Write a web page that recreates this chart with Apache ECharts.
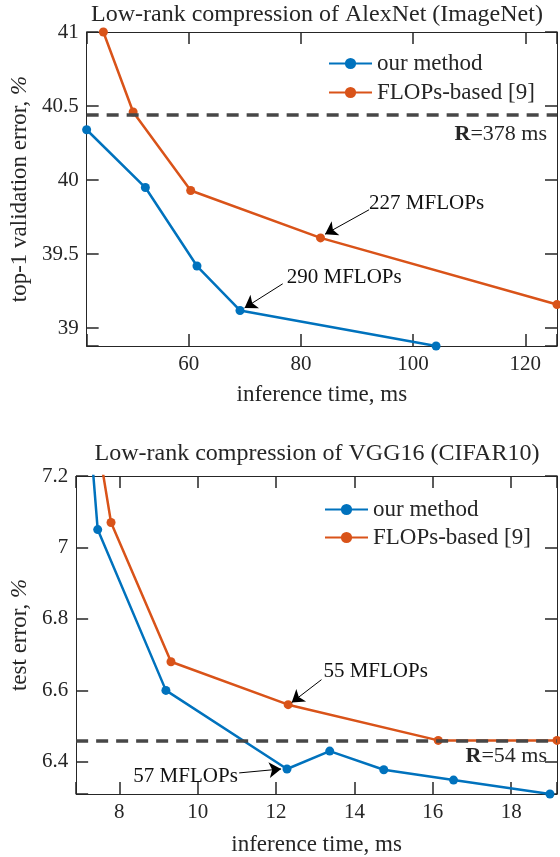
<!DOCTYPE html>
<html>
<head>
<meta charset="utf-8">
<script src="https://cdn.jsdelivr.net/npm/echarts@6/dist/echarts.min.js"></script>
<style>
    html, body { margin: 0; padding: 0; background: #fff; }
    #chart { width: 560px; height: 857px; }
</style>
</head>
<body>
<div id="chart"></div>
<script>
    // top: AlexNet (ImageNet), [inference time ms, top-1 error %]
    var alexOurs = [[41.8, 40.34], [52.27, 39.95], [61.47, 39.42], [69.14, 39.12], [104.1, 38.88]];
    var alexFlops = [[44.78, 41.0], [50.09, 40.46], [60.35, 39.93], [83.5, 39.61], [125.66, 39.16]];
    var alexR = 40.436;
    var alexX = [41.8, 125.66, 20];
    var alexY = [38.88, 41, 0.5];
    var alexNotes = ['227 MFLOPs', '290 MFLOPs'];
    var alexNoteAt = [[92.16, 39.845], [77.47, 39.345]];
    var alexArrowFrom = [[92.16, 39.80], [76.76, 39.30]];
    var alexArrowTo = [[84.3, 39.635], [69.96, 39.137]];

    // bottom: VGG16 (CIFAR10), [inference time ms, test error %]
    var vggOurs = [[6.9, 7.8], [7.45, 7.05], [9.19, 6.6], [12.28, 6.38], [13.37, 6.43], [14.75, 6.378], [16.53, 6.349], [18.99, 6.31]];
    var vggFlops = [[7.0, 7.6], [7.79, 7.07], [9.32, 6.68], [12.31, 6.56], [16.14, 6.46], [19.17, 6.46]];
    var vggR = 6.46;
    var vggX = [6.9, 19.17, 2];
    var vggY = [6.31, 7.2, 0.2];
    var vggNotes = ['55 MFLOPs', '57 MFLOPs'];
    var vggNoteAt = [[13.21, 6.653], [8.36, 6.36]];
    var vggArrowFrom = [[13.16, 6.63], [11.06, 6.369]];
    var vggArrowTo = [[12.40, 6.566], [12.13, 6.38]];

    var names = ['our method', 'FLOPs-based [9]'];
    var font = 'Liberation Serif';
    var ink = '#262626';
    var blue = '#0072BD';
    var orange = '#D95319';

    // hide labels at the (non round) axis ends
    function tickFmt(step) {
        return function (v) {
            var k = v / step;
            return Math.abs(k - Math.round(k)) < 1e-6 ? String(+v.toFixed(2)) : '';
        };
    }

    function axis(grid, pos, range, labels, extra) {
        var a = {
            type: 'value',
            gridIndex: grid,
            position: pos,
            min: range[0],
            max: range[1],
            minInterval: range[2],
            maxInterval: range[2],
            axisLine: {show: true, onZero: false, lineStyle: {color: ink, width: 1}},
            axisTick: {show: true, inside: true, length: 12, lineStyle: {color: ink, width: 1.5}},
            splitLine: {show: false},
            axisLabel: {
                show: labels,
                formatter: tickFmt(range[2]),
                color: ink,
                fontSize: 21,
                fontFamily: font
            }
        };
        for (var k in extra) a[k] = extra[k];
        return a;
    }

    function lineSeries(name, color, data, idx) {
        return {
            type: 'line',
            name: name,
            xAxisIndex: idx,
            yAxisIndex: idx,
            data: data,
            symbol: 'circle',
            symbolSize: 9,
            lineStyle: {width: 2.5, color: color},
            itemStyle: {color: color},
            clip: true,
            silent: true
        };
    }

    function rLine(value, text, idx, gapY) {
        return {
            type: 'line',
            name: 'R',
            xAxisIndex: idx,
            yAxisIndex: idx,
            data: [],
            markLine: {
                silent: true,
                symbol: ['none', 'none'],
                z: 10,
                lineStyle: {color: '#474747', width: 3.5, type: [12, 8]},
                label: {
                    show: true,
                    position: 'insideEndBottom',
                    distance: [10, gapY],
                    formatter: text,
                    color: ink,
                    fontSize: 22,
                    fontFamily: font,
                    rich: {b: {fontWeight: 'bold', fontSize: 22, fontFamily: font, color: ink}}
                },
                data: [{yAxis: value}]
            }
        };
    }

    function notes(labels, at, from, to, idx) {
        return {
            type: 'line',
            name: 'notes',
            xAxisIndex: idx,
            yAxisIndex: idx,
            data: [],
            markPoint: {
                silent: true,
                symbol: 'circle',
                symbolSize: 0,
                label: {
                    show: true,
                    position: 'right',
                    distance: 0,
                    formatter: '{b}',
                    color: '#111',
                    fontSize: 21,
                    fontFamily: font
                },
                data: labels.map(function (t, i) {
                    return {name: t, coord: at[i]};
                })
            },
            markLine: {
                silent: true,
                symbol: ['none', 'arrow'],
                symbolSize: 12,
                z: 11,
                lineStyle: {color: '#000', width: 1, type: 'solid'},
                itemStyle: {color: '#000'},
                label: {show: false},
                data: from.map(function (p, i) {
                    return [{coord: p}, {coord: to[i]}];
                })
            }
        };
    }

    var chart = echarts.init(document.getElementById('chart'));

    var option = {
        animation: false,
        backgroundColor: '#fff',
        textStyle: {fontFamily: font},
        title: [
            {
                text: 'Low-rank compression of AlexNet (ImageNet)',
                left: 312, top: -2, textAlign: 'center',
                textStyle: {fontFamily: font, fontSize: 24, fontWeight: 'normal', color: ink}
            },
            {
                text: 'Low-rank compression of VGG16 (CIFAR10)',
                left: 312, top: 437, textAlign: 'center',
                textStyle: {fontFamily: font, fontSize: 24, fontWeight: 'normal', color: ink}
            }
        ],
        legend: [
            {
                data: names, orient: 'vertical', left: 323, top: 47,
                itemWidth: 43, itemHeight: 14, itemGap: 6,
                textStyle: {fontFamily: font, fontSize: 23, color: ink}
            },
            {
                data: names, orient: 'vertical', left: 319, top: 493,
                itemWidth: 43, itemHeight: 14, itemGap: 5,
                textStyle: {fontFamily: font, fontSize: 23, color: ink}
            }
        ],
        grid: [
            {left: 86, top: 32, right: 1, bottom: 511},
            {left: 75, top: 476, right: 1, bottom: 63}
        ],
        xAxis: [
            axis(0, 'bottom', alexX, true, {
                name: 'inference time, ms', nameLocation: 'middle', nameGap: 37,
                nameTextStyle: {fontFamily: font, fontSize: 23, color: ink}
            }),
            axis(0, 'top', alexX, false, {}),
            axis(1, 'bottom', vggX, true, {
                name: 'inference time, ms', nameLocation: 'middle', nameGap: 39,
                nameTextStyle: {fontFamily: font, fontSize: 23, color: ink}
            }),
            axis(1, 'top', vggX, false, {})
        ],
        yAxis: [
            axis(0, 'left', alexY, true, {
                name: 'top-1 validation error, {i|%}', nameLocation: 'middle', nameGap: 51, nameRotate: 90,
                nameTextStyle: {fontFamily: font, fontSize: 23, color: ink, rich: {i: {fontStyle: 'italic', fontFamily: font, fontSize: 23, color: ink}}}
            }),
            axis(0, 'right', alexY, false, {}),
            axis(1, 'left', vggY, true, {
                name: 'test error, {i|%}', nameLocation: 'middle', nameGap: 41, nameRotate: 90,
                nameTextStyle: {fontFamily: font, fontSize: 23, color: ink, rich: {i: {fontStyle: 'italic', fontFamily: font, fontSize: 23, color: ink}}}
            }),
            axis(1, 'right', vggY, false, {})
        ],
        series: [
            lineSeries(names[0], blue, alexOurs, 0),
            lineSeries(names[1], orange, alexFlops, 0),
            rLine(alexR, '{b|R}=378 ms', 0, 8),
            notes(alexNotes, alexNoteAt, alexArrowFrom, alexArrowTo, 0),
            lineSeries(names[0], blue, vggOurs, 2),
            lineSeries(names[1], orange, vggFlops, 2),
            rLine(vggR, '{b|R}=54 ms', 2, 5),
            notes(vggNotes, vggNoteAt, vggArrowFrom, vggArrowTo, 2)
        ]
    };

    chart.setOption(option);
</script>
</body>
</html>
